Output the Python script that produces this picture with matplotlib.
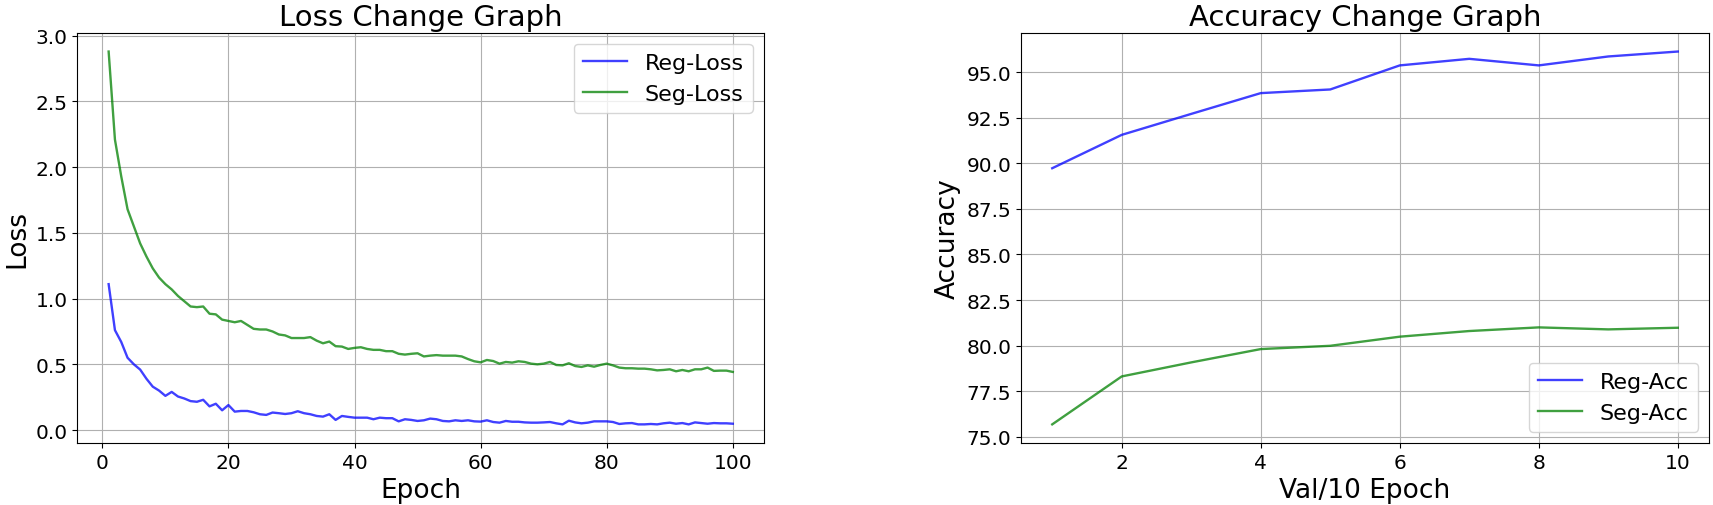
import matplotlib
matplotlib.use("Agg")
import matplotlib.pyplot as plt

epochs = list(range(1, 101))
reg_loss = [1.11, 0.76, 0.67, 0.55, 0.50, 0.46, 0.39, 0.33, 0.30, 0.26,
            0.29, 0.255, 0.24, 0.22, 0.215, 0.23, 0.18, 0.20, 0.15, 0.19,
            0.14, 0.145, 0.145, 0.135, 0.12, 0.115, 0.133, 0.128, 0.122, 0.128,
            0.143, 0.128, 0.12, 0.107, 0.102, 0.12, 0.077, 0.107, 0.10, 0.094,
            0.094, 0.094, 0.082, 0.094, 0.09, 0.09, 0.066, 0.082, 0.077, 0.069,
            0.074, 0.087, 0.082, 0.069, 0.066, 0.074, 0.069, 0.074, 0.066, 0.064,
            0.074, 0.061, 0.056, 0.069, 0.063, 0.063, 0.058, 0.056, 0.056, 0.058,
            0.061, 0.051, 0.043, 0.071, 0.058, 0.051, 0.056, 0.066, 0.066, 0.066,
            0.061, 0.046, 0.051, 0.053, 0.043, 0.043, 0.046, 0.043, 0.051, 0.056,
            0.048, 0.053, 0.043, 0.058, 0.053, 0.048, 0.053, 0.051, 0.051, 0.048]
seg_loss = [2.88, 2.21, 1.93, 1.68, 1.55, 1.42, 1.32, 1.23, 1.16, 1.11,
            1.07, 1.02, 0.98, 0.94, 0.935, 0.94, 0.885, 0.88, 0.84, 0.83,
            0.82, 0.83, 0.80, 0.77, 0.765, 0.765, 0.75, 0.727, 0.72, 0.70,
            0.70, 0.70, 0.707, 0.68, 0.66, 0.673, 0.638, 0.635, 0.617, 0.625,
            0.63, 0.617, 0.61, 0.61, 0.60, 0.60, 0.58, 0.574, 0.58, 0.584,
            0.56, 0.566, 0.57, 0.566, 0.566, 0.566, 0.56, 0.54, 0.523, 0.515,
            0.533, 0.525, 0.505, 0.518, 0.513, 0.523, 0.518, 0.505, 0.50, 0.505,
            0.518, 0.495, 0.492, 0.508, 0.487, 0.48, 0.492, 0.482, 0.495, 0.505,
            0.492, 0.475, 0.47, 0.47, 0.467, 0.467, 0.462, 0.454, 0.457, 0.462,
            0.447, 0.457, 0.447, 0.462, 0.462, 0.475, 0.45, 0.452, 0.452, 0.442]

val_steps = list(range(1, 11))
reg_acc = [89.73, 91.56, 92.71, 93.85, 94.05, 95.37, 95.73, 95.37, 95.86, 96.13]
seg_acc = [75.68, 78.31, 79.08, 79.81, 79.99, 80.49, 80.80, 81.00, 80.89, 80.98]

TICK = 14.5
LEG = 16
LAB = 19
TIT = 21
LW = 1.7

fig = plt.figure(figsize=(17.13, 5.06), dpi=100)
ax1 = fig.add_axes([0.0452, 0.1225, 0.446 - 0.0452, 0.933 - 0.1225])
ax2 = fig.add_axes([0.596, 0.1225, 0.9977 - 0.596, 0.933 - 0.1225])

ax1.plot(epochs, reg_loss, color="blue", alpha=0.75, lw=LW, label="Reg-Loss")
ax1.plot(epochs, seg_loss, color="green", alpha=0.75, lw=LW, label="Seg-Loss")
ax1.set_title("Loss Change Graph", fontsize=TIT)
ax1.set_xlabel("Epoch", fontsize=LAB)
ax1.set_ylabel("Loss", fontsize=LAB)
ax1.tick_params(labelsize=TICK)
ax1.grid(True)
ax1.legend(loc="upper right", fontsize=LEG)

ax2.plot(val_steps, reg_acc, color="blue", alpha=0.75, lw=LW, label="Reg-Acc")
ax2.plot(val_steps, seg_acc, color="green", alpha=0.75, lw=LW, label="Seg-Acc")
ax2.set_title("Accuracy Change Graph", fontsize=TIT)
ax2.set_xlabel("Val/10 Epoch", fontsize=LAB)
ax2.set_ylabel("Accuracy", fontsize=LAB)
ax2.tick_params(labelsize=TICK)
ax2.grid(True)
ax2.legend(loc="lower right", fontsize=LEG)

fig.savefig("out.png", dpi=100)
